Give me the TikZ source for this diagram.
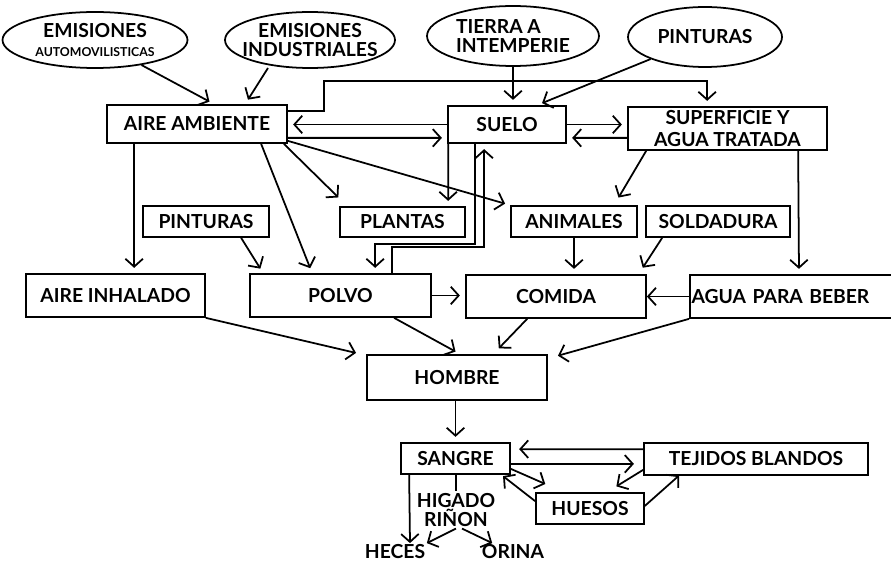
\documentclass[tikz,border=0pt]{standalone}
\usepackage{fontspec}
\setmainfont{Lato}
\usetikzlibrary{arrows.meta, positioning, shapes.geometric, calc}

\begin{document}
\begin{tikzpicture}[
    x=0.02cm, y=-0.02cm,
    line width=1pt,
    box/.style={
      draw, rectangle, inner sep=1pt, align=center,
      font=\fontsize{11}{12}\selectfont\bfseries
    },
    oval/.style={
      draw, ellipse, inner sep=-12pt, align=center,
      font=\fontsize{11}{11}\selectfont\bfseries
    },
    txt/.style={inner sep=0.5pt, align=center, font=\fontsize{11}{11}\selectfont\bfseries},
    arr/.style={-{Straight Barb[length=4.5pt, width=10pt]}, shorten >=3pt},
  ]
    \useasboundingbox (0,0) rectangle (891,564);
    \clip (0,0) rectangle (891,564);

    % --- Fuentes ---
    \node[oval, minimum width=3.7cm, minimum height=1.12cm] (emiauto) at (95,40)
      {EMISIONES\\{\fontsize{7}{8}\selectfont AUTOMOVILISTICAS}};
    \node[oval, minimum width=3.4cm, minimum height=1.12cm] (emiind) at (310,40)
      {EMISIONES\\INDUSTRIALES};
    \node[oval, minimum width=3.44cm, minimum height=1.2cm, align=left] (tierra) at (513,36)
      {TIERRA A\\INTEMPERIE};
    \node[oval, minimum width=3.08cm, minimum height=1.2cm] (pintura) at (705,37) {PINTURAS};

    % --- Medio ---
    \node[box, minimum width=3.6cm, minimum height=0.76cm] (aire) at (197,124) {AIRE AMBIENTE};
    \node[box, minimum width=2.36cm, minimum height=0.74cm] (suelo) at (507,124.5) {SUELO};
    \node[box, minimum width=3.98cm, minimum height=0.86cm] (superf) at (727.5,128.5)
      {SUPERFICIE Y\\AGUA TRATADA};

    \node[box, minimum width=2.52cm, minimum height=0.62cm] (pintbox) at (206,221.5) {PINTURAS};
    \node[box, minimum width=2.5cm, minimum height=0.6cm] (plantas) at (402.5,222) {PLANTAS};
    \node[box, minimum width=2.52cm, minimum height=0.62cm] (animales) at (574,221.5) {ANIMALES};
    \node[box, minimum width=2.88cm, minimum height=0.62cm] (soldadura) at (718,221.5) {SOLDADURA};

    \node[box, minimum width=3.58cm, minimum height=0.86cm] (inhalado) at (115.5,295.5) {AIRE INHALADO};
    \node[box, minimum width=3.62cm, minimum height=0.86cm] (polvo) at (340.5,295.5) {POLVO};
    \node[box, minimum width=3.6cm, minimum height=0.86cm] (comida) at (556,296.5) {COMIDA};
    \node[box, anchor=west, text width=4.1cm, align=left, minimum height=0.86cm] (agua) at (689,296.5)
      {AGUA PARA BEBER};

    % --- Hombre ---
    \node[box, minimum width=3.6cm, minimum height=0.9cm] (hombre) at (457,377.5) {HOMBRE};
    \node[box, minimum width=2.18cm, minimum height=0.62cm] (sangre) at (455.5,458.5) {SANGRE};
    \node[box, minimum width=4.48cm, minimum height=0.64cm] (tejidos) at (756,459) {TEJIDOS BLANDOS};
    \node[box, minimum width=2.16cm, minimum height=0.62cm] (huesos) at (590,508.5) {HUESOS};
    \node[txt] (higado) at (456,510) {HIGADO\\RIÑON};
    \node[txt] (heces) at (395,552) {HECES};
    \node[txt] (orina) at (513,552) {ORINA};

    % --- Flechas de las fuentes ---
    \draw[arr] (emiauto) -- ($(aire.north west)+(108,0)$);
    \draw[arr] ($(emiind.center)+(-42,28)$) -- ($(aire.north west)+(139,0)$);
    \draw[arr] (tierra.south) -- (tierra.south |- suelo.north);
    \draw[arr] (pintura) -- ($(suelo.north west)+(90,0)$);
    \draw[arr] ($(aire.north east)+(0,7)$) -- ++(36,0) |- ($(superf.north west)+(80,-25)$)
      -- ($(superf.north west)+(80,0)$);

    % --- Aire, suelo, agua ---
    \draw[arr] (suelo.west) -- (suelo.west -| aire.east);
    \draw[arr] ($(aire.south east)+(0,-6)$) -- ($(suelo.south west)+(0,-6)$);
    \draw[arr] (suelo.east) -- (suelo.east -| superf.west);
    \draw[arr] ($(superf.south west)+(0,-13)$) -- ($(suelo.south east)+(0,-6)$);

    \draw[arr] ($(aire.south west)+(28,0)$) -- ($(inhalado.north west)+(109,0)$);
    \draw[arr] ($(aire.south west)+(155,0)$) -- ($(polvo.north west)+(63,0)$);
    \draw[arr] ($(aire.south east)+(-4,0)$) -- ($(plantas.north west)+(3,-5)$);
    \draw[arr] ($(aire.south east)+(0,-3)$) -- (animales.north west);

    \draw[arr] ($(suelo.south west)+(1,0)$) -- ($(plantas.north west)+(109,0)$);
    \draw[arr] ($(suelo.south west)+(28,0)$) -- ++(0,100) -| ($(polvo.north west)+(126,0)$);
    \draw[arr] ($(polvo.north west)+(143,0)$) -- ++(0,-26) -| ($(suelo.south west)+(37,0)$);

    \draw[arr] ($(superf.south west)+(19,0)$) -- ($(animales.north east)+(-22,-3)$);
    \draw[arr] ($(superf.south west)+(171,0)$) -- ($(agua.north west)+(110,0)$);

    % --- Hacia polvo y comida ---
    \draw[arr] ($(pintbox.south west)+(99,0)$) -- ($(polvo.north west)+(14,0)$);
    \draw[arr] (animales.south) -- (animales.south |- comida.north);
    \draw[arr] ($(soldadura.south west)+(17,0)$) -- ($(comida.north east)+(-7,-2)$);
    \draw[arr] (polvo.east) -- (polvo.east -| comida.west);
    \draw[arr, shorten >=0pt] (agua.west) -- (comida.east);

    % --- Hacia hombre ---
    \draw[arr] (inhalado.south east) -- ($(hombre.north west)+(-5,0)$);
    \draw[arr] ($(polvo.south west)+(145,0)$) -- ($(hombre.north west)+(94,0)$);
    \draw[arr] ($(comida.south west)+(62,0)$) -- ($(hombre.north west)+(129,-2)$);
    \draw[arr] (agua.south west) -- ($(hombre.north east)+(5,3)$);
    \draw[arr] (sangre.north |- hombre.south) -- (sangre.north);

    % --- Sangre y tejidos ---
    \draw[arr] ($(tejidos.north west)+(0,7)$) -- ($(sangre.north east)+(3,7)$);
    \draw[arr] ($(sangre.south east)+(0,-11)$) -- ($(tejidos.south west)+(-4,-12)$);
    \draw[arr] ($(sangre.south east)+(0,-6)$) -- ($(huesos.north west)+(15,-6)$);
    \draw[arr] ($(huesos.north west)+(0,9)$) -- ($(sangre.south east)+(-12,-2)$);
    \draw[arr] ($(tejidos.south west)+(0,-6)$) -- ($(huesos.north east)+(-33,-3)$);
    \draw[arr] ($(huesos.south east)+(0,-19)$) -- ($(tejidos.south west)+(40,-4)$);

    % --- Salidas ---
    \draw (higado.north |- sangre.south) -- (higado.north);
    \draw[arr, shorten >=0pt] ($(sangre.south west)+(9,0)$) -- ($(heces.north)+(15,0)$);
    \draw[arr, shorten >=0pt] (higado.south) -- (heces.north east);
    \draw[arr, shorten >=0pt] ($(higado.south)+(6,0)$) -- ($(orina.north west)+(12,0)$);
  \end{tikzpicture}
\end{document}
